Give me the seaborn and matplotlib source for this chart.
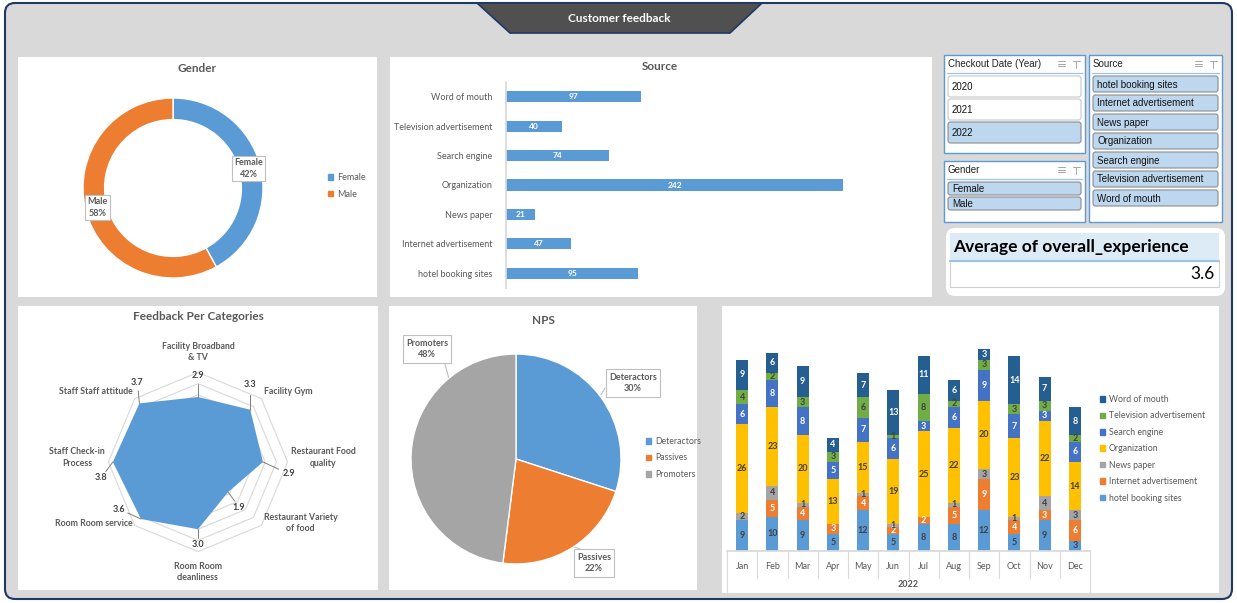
import numpy as np
import pandas as pd
import matplotlib.pyplot as plt
import seaborn as sns
from matplotlib.patches import Rectangle, FancyBboxPatch, Polygon, Patch

sns.set_theme(style='white')
plt.rcParams['font.family'] = ['Lato', 'DejaVu Sans']

W, H = 1237, 603

# ---- data ----
gender_labels = ['Female', 'Male']
gender_share = [42, 58]

source_names = ['Word of mouth', 'Television advertisement', 'Search engine', 'Organization',
                'News paper', 'Internet advertisement', 'hotel booking sites']
source_counts = [97, 40, 74, 242, 21, 47, 95]

categories = ['Facility Broadband\n& TV', 'Facility Gym', 'Restaurant Food\nquality',
              'Restaurant Variety\nof food', 'Room Room\ncleanliness', 'Room Room service',
              'Staff Check-in\nProcess', 'Staff Staff attitude']
scores = [2.9, 3.3, 2.9, 1.9, 3.0, 3.6, 3.8, 3.7]

nps_labels = ['Deteractors', 'Passives', 'Promoters']
nps_share = [30, 22, 48]

months = ['Jan', 'Feb', 'Mar', 'Apr', 'May', 'Jun', 'Jul', 'Aug', 'Sep', 'Oct', 'Nov', 'Dec']
hotel = [9, 10, 9, 5, 12, 5, 8, 8, 12, 5, 9, 3]
internet = [0, 5, 4, 3, 4, 2, 2, 5, 9, 4, 3, 6]
news = [2, 4, 1, 0, 1, 1, 0, 1, 3, 1, 4, 3]
organization = [26, 23, 20, 13, 15, 19, 25, 22, 20, 23, 22, 14]
search = [6, 8, 8, 5, 7, 6, 3, 6, 9, 7, 3, 6]
television = [4, 2, 3, 3, 6, 1, 8, 2, 3, 3, 3, 2]
word_of_mouth = [9, 6, 9, 4, 7, 13, 11, 6, 3, 14, 7, 8]

years = ['2020', '2021', '2022']
slicer_sources = ['hotel booking sites', 'Internet advertisement', 'News paper', 'Organization',
                  'Search engine', 'Television advertisement', 'Word of mouth']
avg_experience = 3.6

blue = '#5b9bd5'
orange = '#ed7d31'
grey = '#a5a5a5'
txt = '#595959'


def ax_px(x0, y0, x1, y1):
    a = fig.add_axes([x0 / W, 1 - y1 / H, (x1 - x0) / W, (y1 - y0) / H])
    a.patch.set_alpha(0)
    return a


fig = plt.figure(figsize=(W / 100, H / 100), dpi=100, facecolor='white')

# background canvas in pixel coords
bg = fig.add_axes([0, 0, 1, 1])
bg.set_xlim(0, W)
bg.set_ylim(H, 0)
bg.axis('off')
bg.add_patch(FancyBboxPatch((5, 3), W - 10, H - 7, boxstyle='round,pad=0,rounding_size=10',
                            fc='#d9d9d9', ec='#1f3864', lw=1.5))
bg.add_patch(Polygon([(477, 3), (762, 3), (730, 33), (510, 33)], closed=True,
                     fc='#505050', ec='#1f3864', lw=1.2))
bg.text(619, 18, 'Customer feedback', color='white', fontsize=8.5, fontweight='bold',
        ha='center', va='center')

# white panels
for x0, y0, x1, y1 in [(18, 57, 377, 297), (390, 57, 932, 297), (18, 306, 378, 590),
                       (389, 306, 697, 590), (722, 306, 1219, 593)]:
    bg.add_patch(Rectangle((x0, y0), x1 - x0, y1 - y0, fc='white', ec='none'))

bg.text(197, 69, 'Gender', fontsize=8.5, fontweight='bold', color=txt, ha='center', va='center')
bg.text(660, 67, 'Source', fontsize=8.5, fontweight='bold', color=txt, ha='center', va='center')
bg.text(198, 317, 'Feedback Per Categories', fontsize=8.5, fontweight='bold', color=txt,
        ha='center', va='center')
bg.text(543, 320, 'NPS', fontsize=8.5, fontweight='bold', color=txt, ha='center', va='center')


# ---- slicers ----
def slicer(x0, y0, x1, y1, title, items, selected, btn_h, gap):
    bg.add_patch(Rectangle((x0, y0), x1 - x0, y1 - y0, fc='white', ec=blue, lw=1))
    bg.text(x0 + 4, y0 + 9, title, fontsize=7, family='Liberation Sans', color='#222222', va='center')
    bg.plot([x0 + 3, x1 - 3], [y0 + 18, y0 + 18], color='#9dc3e6', lw=0.9)
    for k in range(3):
        bg.plot([x1 - 27, x1 - 20], [y0 + 6 + k * 2.5] * 2, color='#a6a6a6', lw=0.7)
    bg.plot([x1 - 12, x1 - 5], [y0 + 6, y0 + 6], color='#a6a6a6', lw=0.7)
    bg.plot([x1 - 9, x1 - 9], [y0 + 6, y0 + 13], color='#a6a6a6', lw=0.7)
    for i, it in enumerate(items):
        yb = y0 + 21 + i * (btn_h + gap)
        on = it in selected
        bg.add_patch(FancyBboxPatch((x0 + 4, yb), x1 - x0 - 8, btn_h,
                                    boxstyle='round,pad=0,rounding_size=2.5',
                                    fc='#bdd7ee' if on else 'white',
                                    ec='#8c8c8c' if on else '#c8c8c8', lw=0.8))
        bg.text(x0 + 8, yb + btn_h / 2 + 0.5, it, fontsize=7, family='Liberation Sans',
                color='#111111', va='center')


slicer(944, 55, 1085, 153, 'Checkout Date (Year)', years, ['2022'], 21, 2)
slicer(944, 161, 1085, 222, 'Gender', gender_labels, gender_labels, 13, 2)
slicer(1089, 55, 1222, 222, 'Source', slicer_sources, slicer_sources, 16, 3)

# ---- KPI card ----
bg.add_patch(FancyBboxPatch((946, 228), 279, 68, boxstyle='round,pad=0,rounding_size=9',
                            fc='white', ec='none'))
bg.add_patch(Rectangle((950, 233), 269, 27, fc='#ddebf7', ec='none'))
bg.add_patch(Rectangle((950, 261), 269, 26, fc='white', ec='#d0d0d0', lw=0.8))
bg.plot([950, 1219], [260.5, 260.5], color='#9dc3e6', lw=1.5)
bg.text(953, 247, 'Average of overall_experience', fontsize=12.5, fontweight='bold',
        color='black', va='center')
bg.text(1215, 274, f'{avg_experience:.1f}', fontsize=12.5, color='black', ha='right', va='center')

# ---- Gender donut ----
ax = ax_px(83, 98, 263, 278)
wedges, _ = ax.pie(gender_share, colors=[blue, orange], startangle=90, counterclock=False,
                   radius=1, wedgeprops=dict(width=0.24, edgecolor='white', linewidth=1))
ax.set_xlim(-1, 1)
ax.set_ylim(-1, 1)
start = 90
for lab, share in zip(gender_labels, gender_share):
    mid = np.deg2rad(start - share * 3.6 / 2)
    start -= share * 3.6
    ax.text(0.87 * np.cos(mid), 0.87 * np.sin(mid), f'{lab}\n{share}%', fontsize=6.5,
            fontweight='bold', color=txt, ha='center', va='center', linespacing=1.3,
            bbox=dict(boxstyle='square,pad=0.25', fc='white', ec='#bfbfbf', lw=0.8))
ax.legend([Patch(color=blue), Patch(color=orange)], gender_labels, loc='upper left',
          bbox_to_anchor=(328 / W, 1 - 173 / H), bbox_transform=fig.transFigure, frameon=False,
          fontsize=6.5, handlelength=0.6, handleheight=0.6, handletextpad=0.4, labelspacing=0.85,
          labelcolor=txt, borderpad=0, borderaxespad=0)

# ---- Source bars ----
ax = ax_px(506, 82, 896, 288)
sns.barplot(x=source_counts, y=source_names, orient='h', color=blue, width=0.38,
            saturation=1, linewidth=0, ax=ax)
ax.set_xlim(0, 280)
ax.set_ylim(6.5, -0.5)
ax.set_xlabel('')
ax.set_ylabel('')
ax.set_xticks([])
for s in ['top', 'right', 'bottom']:
    ax.spines[s].set_visible(False)
ax.spines['left'].set_color('#d9d9d9')
ax.tick_params(axis='y', length=0, pad=10, labelsize=6.5, labelcolor=txt)
for i, v in enumerate(source_counts):
    ax.text(v / 2, i, str(v), color='white', fontsize=6, fontweight='bold', ha='center', va='center')

# ---- Radar ----
scale = 22.4
cx, cy = 198, 462
ax = ax_px(18, 330, 378, 588)
ax.set_xlim(-(cx - 18) / scale, (378 - cx) / scale)
ax.set_ylim(-(588 - cy) / scale, (cy - 330) / scale)
ax.axis('off')
ang = np.deg2rad(90 - np.arange(len(categories)) * 45)
for r in np.arange(0.5, 4.01, 0.5):
    ax.add_patch(Polygon(np.c_[r * np.cos(ang), r * np.sin(ang)], closed=True, fill=False,
                         ec='#d9d9d9', lw=0.8, zorder=1))
sc = np.array(scores)
ax.fill(sc * np.cos(ang), sc * np.sin(ang), color=blue, zorder=3, lw=0)
# category labels
for a, lab in zip(ang, categories):
    c, s = np.cos(a), np.sin(a)
    ha = 'left' if c > 0.3 else ('right' if c < -0.3 else 'center')
    va = 'bottom' if s > 0.9 else ('top' if s < -0.9 else 'center')
    r = 4.45 if abs(s) > 0.9 else 4.15
    lift = 0.2 if abs(s) < 0.9 else 0
    ax.text(r * c, r * s + lift, lab, fontsize=6.3, fontweight='bold', color=txt, ha=ha, va=va,
            linespacing=1.3, multialignment='center')
# value labels, offsets in px (screen)
val_off = [(0, -22), (0, -25), (26, 12), (11, 15), (0, 15), (-22, -10), (-12, 16), (-2, -21)]
for a, v, (dx, dy) in zip(ang, scores, val_off):
    vx, vy = v * np.cos(a), v * np.sin(a)
    lx, ly = vx + dx / scale, vy - dy / scale
    ax.plot([vx, vx + 0.6 * (lx - vx)], [vy, vy + 0.6 * (ly - vy)], color='#7f7f7f', lw=0.7, zorder=4)
    ax.text(lx, ly, f'{v:.1f}', fontsize=6.5, fontweight='bold', color='#404040',
            ha='center', va='center', zorder=5)

# ---- NPS pie ----
ax = ax_px(411, 354, 621, 564)
ax.pie(nps_share, colors=[blue, orange, grey], startangle=90, counterclock=False, radius=1,
       wedgeprops=dict(edgecolor='white', linewidth=1))
ax.set_xlim(-1, 1)
ax.set_ylim(-1, 1)
nps_pos = [(633, 383), (594, 563), (427, 349)]
nps_lines = [((605, 388), (601, 395)), ((580, 549), (572, 546)), ((445, 364), (449, 379))]
for lab, share, (px, py) in zip(nps_labels, nps_share, nps_pos):
    bg.text(px, py, f'{lab}\n{share}%', fontsize=6.5, fontweight='bold', color=txt,
            ha='center', va='center', linespacing=1.4, zorder=6,
            bbox=dict(boxstyle='square,pad=0.35', fc='white', ec='#bfbfbf', lw=0.8))
for (p0, p1) in nps_lines:
    bg.plot([p0[0], p1[0]], [p0[1], p1[1]], color='#bfbfbf', lw=0.8, zorder=5)
ax.legend([Patch(color=c) for c in [blue, orange, grey]], nps_labels, loc='upper left',
          bbox_to_anchor=(646 / W, 1 - 437 / H), bbox_transform=fig.transFigure, frameon=False,
          fontsize=6.3, handlelength=0.6, handleheight=0.6, handletextpad=0.4, labelspacing=0.85,
          labelcolor=txt, borderpad=0, borderaxespad=0)

# ---- Stacked monthly bars ----
series = [('hotel booking sites', hotel, '#5b9bd5', '#404040'),
          ('Internet advertisement', internet, '#ed7d31', 'white'),
          ('News paper', news, '#a5a5a5', '#404040'),
          ('Organization', organization, '#ffc000', '#404040'),
          ('Search engine', search, '#4472c4', 'white'),
          ('Television advertisement', television, '#70ad47', '#404040'),
          ('Word of mouth', word_of_mouth, '#255e91', 'white')]
df = pd.DataFrame({name: vals for name, vals, _, _ in series}, index=months)
cum = df.cumsum(axis=1)

ax = ax_px(727, 339, 1090, 551)
for name, vals, col, _ in reversed(series):
    sns.barplot(x=months, y=cum[name].values, color=col, width=0.4, saturation=1,
                linewidth=0, ax=ax)
ax.set_ylim(0, 62)
ax.set_xlim(-0.5, 11.5)
ax.set_yticks([])
for s in ['top', 'right', 'left']:
    ax.spines[s].set_visible(False)
ax.spines['bottom'].set_color('#d9d9d9')
ax.tick_params(axis='x', length=0, pad=8, labelsize=6.5, labelcolor=txt)
for name, vals, col, tc in series:
    base = cum[name].values - np.array(vals)
    for i, v in enumerate(vals):
        if v > 0:
            ax.text(i, base[i] + v / 2, str(v), color=tc, fontsize=6.5, fontweight='bold',
                    ha='center', va='center')
tr = ax.get_xaxis_transform()
for i in range(13):
    low = -0.2 if i in (0, 12) else -0.125
    ax.plot([i - 0.5, i - 0.5], [0, low], transform=tr, color='#d9d9d9', lw=0.8, clip_on=False)
ax.text(5.5, -0.157, '2022', transform=tr, fontsize=6.5, fontweight='bold', color=txt,
        ha='center', va='center')
ax.legend([Patch(color=c) for _, _, c, _ in reversed(series)],
          [n for n, _, _, _ in reversed(series)], loc='upper left',
          bbox_to_anchor=(1100 / W, 1 - 395 / H), bbox_transform=fig.transFigure, frameon=False,
          fontsize=6.3, handlelength=0.6, handleheight=0.6, handletextpad=0.4, labelspacing=0.85,
          labelcolor=txt, borderpad=0, borderaxespad=0)

fig.savefig('out.png', dpi=100, facecolor='white')
